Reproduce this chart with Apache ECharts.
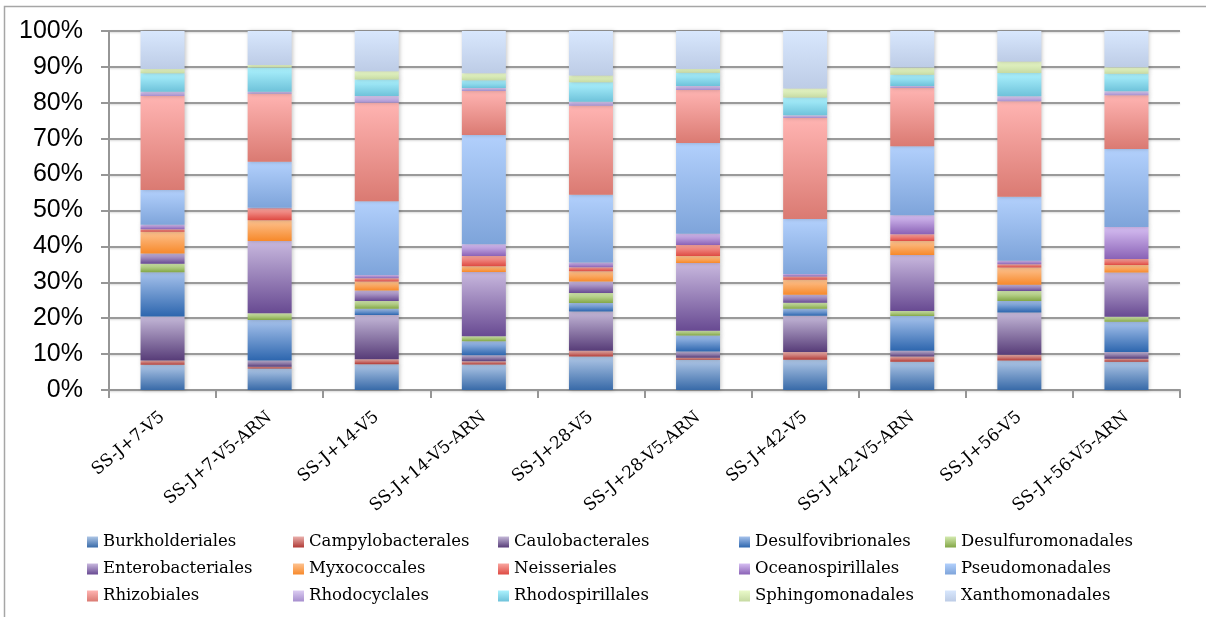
<!DOCTYPE html>
<html>
<head>
<meta charset="utf-8">
<script src="https://cdn.jsdelivr.net/npm/echarts@6/dist/echarts.min.js"></script>
<style>
  html, body { margin: 0; padding: 0; background: #fff; }
  #chart { width: 1206px; height: 617px; }
</style>
</head>
<body>
<div id="chart"></div>
<script>
var categories = ['SS-J+7-V5', 'SS-J+7-V5-ARN', 'SS-J+14-V5', 'SS-J+14-V5-ARN', 'SS-J+28-V5',
                  'SS-J+28-V5-ARN', 'SS-J+42-V5', 'SS-J+42-V5-ARN', 'SS-J+56-V5', 'SS-J+56-V5-ARN'];
var yTicks = [0, 10, 20, 30, 40, 50, 60, 70, 80, 90, 100];

// % per order, bottom to top
var burkholderiales    = [7.0, 6.0, 7.2, 7.1, 9.3, 8.4, 8.4, 7.9, 8.2, 7.9];
var campylobacterales  = [1.2, 0.5, 1.4, 0.9, 1.6, 0.6, 2.2, 1.4, 1.6, 0.8];
var caulobacterales    = [12.3, 1.7, 12.3, 1.7, 11.0, 1.7, 10.1, 1.6, 11.8, 1.9];
var desulfovibrionales = [12.3, 11.3, 1.7, 3.9, 2.3, 4.5, 1.9, 9.7, 3.2, 8.4];
var desulfuromonadales = [2.4, 1.9, 2.2, 1.4, 2.8, 1.3, 1.7, 1.4, 2.8, 1.4];
var enterobacteriales  = [2.8, 20.1, 2.9, 17.9, 3.2, 18.9, 2.2, 15.6, 1.7, 12.3];
var myxococcales       = [6.1, 5.8, 2.5, 1.6, 2.9, 1.9, 4.2, 3.9, 4.8, 2.1];
var neisseriales       = [0.7, 3.3, 0.9, 2.8, 1.1, 3.1, 0.9, 1.9, 0.9, 1.7];
var oceanospirillales  = [1.2, 0.2, 0.9, 3.3, 1.3, 3.1, 0.7, 5.3, 1.0, 8.9];
var pseudomonadales    = [9.7, 12.8, 20.6, 30.4, 18.9, 25.3, 15.3, 19.2, 17.8, 21.7];
var rhizobiales        = [26.2, 18.9, 27.4, 12.3, 24.8, 14.8, 28.2, 16.2, 26.6, 15.0];
var rhodocyclales      = [1.2, 0.6, 1.9, 0.8, 1.1, 1.1, 0.7, 0.6, 1.4, 1.1];
var rhodospirillales   = [5.1, 6.7, 4.6, 2.2, 5.4, 3.7, 5.0, 3.1, 6.5, 4.9];
var sphingomonadales   = [1.2, 0.7, 2.3, 1.9, 1.9, 1.0, 2.5, 2.0, 3.2, 1.8];
var xanthomonadales    = [10.6, 9.5, 11.2, 11.8, 12.4, 10.6, 16.0, 10.2, 8.5, 10.1];

var seriesList = [
  ['Burkholderiales', burkholderiales, '#aec6e6', '#386aa8'],
  ['Campylobacterales', campylobacterales, '#eab0ac', '#b03a36'],
  ['Caulobacterales', caulobacterales, '#c4b8d8', '#573c78'],
  ['Desulfovibrionales', desulfovibrionales, '#a6c2ec', '#2d66ae'],
  ['Desulfuromonadales', desulfuromonadales, '#d4eab0', '#82a646'],
  ['Enterobacteriales', enterobacteriales, '#c8b8de', '#684a92'],
  ['Myxococcales', myxococcales, '#fdc290', '#f7892a'],
  ['Neisseriales', neisseriales, '#f9a6a0', '#de4a42'],
  ['Oceanospirillales', oceanospirillales, '#d6bef2', '#8a62b6'],
  ['Pseudomonadales', pseudomonadales, '#b2d0fc', '#7ea4da'],
  ['Rhizobiales', rhizobiales, '#ffb4b2', '#da7a72'],
  ['Rhodocyclales', rhodocyclales, '#dccdf2', '#a68ece'],
  ['Rhodospirillales', rhodospirillales, '#acf2fe', '#6ec2da'],
  ['Sphingomonadales', sphingomonadales, '#eafaca', '#c6daa2'],
  ['Xanthomonadales', xanthomonadales, '#d8e7fd', '#bdcce6']
];

function grad(top, bottom) {
  return new echarts.graphic.LinearGradient(0, 0, 0, 1, [
    { offset: 0, color: top },
    { offset: 1, color: bottom }
  ]);
}

var series = seriesList.map(function (s) {
  return {
    name: s[0],
    type: 'bar',
    stack: 'total',
    barWidth: 44,
    data: s[1],
    itemStyle: {
      color: grad(s[2], s[3]),
      shadowColor: 'rgba(0,0,0,0.22)',
      shadowBlur: 4,
      shadowOffsetX: 1
    }
  };
});

// legend laid out in 5 columns of 3 rows, like the original
var legendCols = [87, 293, 498, 739, 945];
var legends = legendCols.map(function (x, c) {
  var names = [];
  for (var r = 0; r < 3; r++) names.push(seriesList[r * 5 + c][0]);
  return {
    orient: 'vertical',
    left: x,
    top: 533,
    padding: 0,
    itemWidth: 11,
    itemHeight: 11,
    itemGap: 9,
    icon: 'rect',
    data: names,
    selectedMode: false,
    textStyle: { fontFamily: 'DejaVu Serif', fontSize: 16.5, color: '#000', lineHeight: 18 }
  };
});

var option = {
  animation: false,
  backgroundColor: '#fff',
  graphic: [{
    type: 'rect',
    shape: { x: 4.5, y: 6.5, width: 1300, height: 700 },
    style: { fill: 'none', stroke: '#a6a6a6', lineWidth: 1.5 },
    silent: true
  }],
  legend: legends,
  grid: { left: 109, right: 26, top: 31, bottom: 227 },
  xAxis: {
    type: 'category',
    data: categories,
    axisLine: { lineStyle: { color: '#969696', width: 2 } },
    axisTick: { show: true, length: 8, lineStyle: { color: '#969696', width: 2 } },
    axisLabel: {
      rotate: 40,
      margin: 25,
      color: '#000',
      fontFamily: 'DejaVu Serif',
      fontSize: 17
    }
  },
  yAxis: {
    type: 'value',
    min: 0,
    max: 100,
    interval: 10,
    axisLine: { show: true, lineStyle: { color: '#969696', width: 2 } },
    axisTick: { show: true, length: 8, lineStyle: { color: '#969696', width: 2 } },
    splitLine: {
      show: true,
      lineStyle: { color: '#9a9a9a', width: 2, shadowColor: 'rgba(0,0,0,0.15)', shadowBlur: 2, shadowOffsetY: 1 }
    },
    axisLabel: {
      margin: 26,
      color: '#000',
      fontFamily: 'Liberation Sans',
      fontSize: 25,
      formatter: function (v) { return yTicks.indexOf(v) >= 0 ? v + '%' : ''; }
    }
  },
  series: series
};

var chartDom = document.getElementById('chart');
var myChart = echarts.init(chartDom);
option && myChart.setOption(option);
</script>
</body>
</html>
